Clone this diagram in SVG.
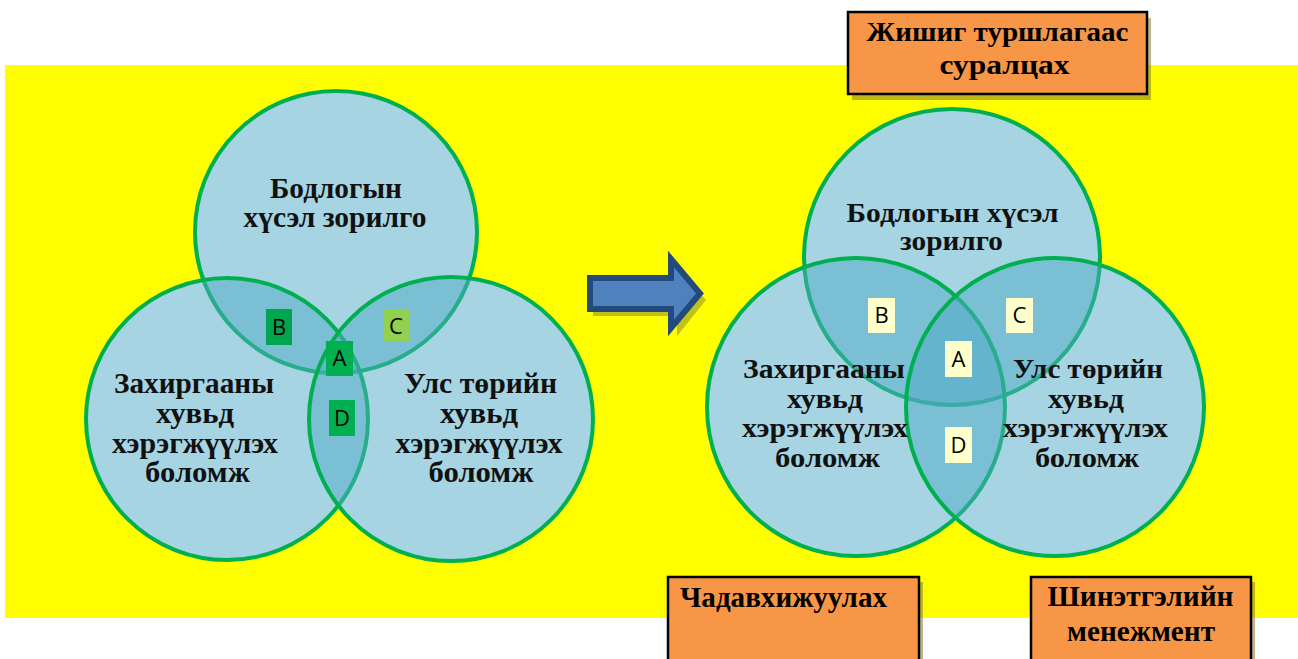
<svg xmlns="http://www.w3.org/2000/svg" width="1298" height="659" viewBox="0 0 1298 659">
<style>
.base{fill:#ffffff}
.circ{fill:#4DA9C5;fill-opacity:0.5;stroke:#00B050;stroke-width:4}
.t{font-family:"Liberation Serif","Times New Roman",serif;font-weight:bold;font-size:29px;fill:#111;text-anchor:middle}
.tr{font-size:28px}
.bt{font-family:"Liberation Serif","Times New Roman",serif;font-weight:bold;font-size:27px;fill:#000;text-anchor:middle}
.bb{font-size:29px}
.lab{font-family:"Open Sans","Liberation Sans",sans-serif;font-size:22px;fill:#000;text-anchor:middle}
.box{fill:#F79646;stroke:#000;stroke-width:2.5}
.shadow{fill:#8A7A2E;fill-opacity:0.55}
</style>
<rect x="5" y="65" width="1293" height="553" fill="#FFFF00"/>

<!-- Left Venn -->
<g id="left-venn-base">
<circle class="base" cx="336" cy="232" r="141"/>
<circle class="base" cx="227" cy="419" r="141"/>
<circle class="base" cx="451" cy="419" r="142"/>
</g>
<g id="L-top"><circle class="circ" cx="336" cy="232" r="141"/></g>
<g id="L-left"><circle class="circ" cx="227" cy="419" r="141"/></g>
<g id="L-right"><circle class="circ" cx="451" cy="419" r="142"/></g>

<!-- Right Venn -->
<g id="right-venn-base">
<circle class="base" cx="952" cy="257" r="148"/>
<circle class="base" cx="856" cy="407" r="149"/>
<circle class="base" cx="1055" cy="407" r="149"/>
</g>
<g id="R-top"><circle class="circ" cx="952" cy="257" r="148"/></g>
<g id="R-left"><circle class="circ" cx="856" cy="407" r="149"/></g>
<g id="R-right"><circle class="circ" cx="1055" cy="407" r="149"/></g>

<!-- Left venn texts -->
<g id="L-top-text" class="t">
<text x="336" y="198" textLength="132" lengthAdjust="spacingAndGlyphs">Бодлогын</text>
<text x="335" y="227" textLength="183" lengthAdjust="spacingAndGlyphs">хүсэл зорилго</text>
</g>
<g id="L-left-text" class="t">
<text x="194" y="392.5" textLength="160" lengthAdjust="spacingAndGlyphs">Захиргааны</text>
<text x="195" y="423" textLength="78" lengthAdjust="spacingAndGlyphs">хувьд</text>
<text x="195" y="452.5" textLength="166" lengthAdjust="spacingAndGlyphs">хэрэгжүүлэх</text>
<text x="197.5" y="481.5" textLength="105" lengthAdjust="spacingAndGlyphs">боломж</text>
</g>
<g id="L-right-text" class="t">
<text x="480.5" y="392.5" textLength="153" lengthAdjust="spacingAndGlyphs">Улс төрийн</text>
<text x="479" y="423" textLength="78" lengthAdjust="spacingAndGlyphs">хувьд</text>
<text x="479" y="452.5" textLength="167" lengthAdjust="spacingAndGlyphs">хэрэгжүүлэх</text>
<text x="481" y="481.5" textLength="105" lengthAdjust="spacingAndGlyphs">боломж</text>
</g>

<!-- Left venn letter labels -->
<g id="L-B"><rect x="266" y="309" width="26" height="36" fill="#00A550"/><text class="lab" x="279" y="335">B</text></g>
<g id="L-C"><rect x="383" y="309" width="26" height="33" fill="#92D050"/><text class="lab" x="396" y="334">C</text></g>
<g id="L-A"><rect x="326" y="341" width="27" height="35" fill="#00B050"/><text class="lab" x="339.5" y="366">A</text></g>
<g id="L-D"><rect x="329" y="400" width="26" height="36" fill="#00B050"/><text class="lab" x="342" y="426">D</text></g>

<!-- Right venn texts -->
<g id="R-top-text" class="t tr">
<text x="952.5" y="222" textLength="212" lengthAdjust="spacingAndGlyphs">Бодлогын хүсэл</text>
<text x="951.5" y="250" textLength="103" lengthAdjust="spacingAndGlyphs">зорилго</text>
</g>
<g id="R-left-text" class="t tr">
<text x="824" y="378" textLength="162" lengthAdjust="spacingAndGlyphs">Захиргааны</text>
<text x="825" y="408" textLength="76" lengthAdjust="spacingAndGlyphs">хувьд</text>
<text x="825" y="437" textLength="166" lengthAdjust="spacingAndGlyphs">хэрэгжүүлэх</text>
<text x="827.5" y="467" textLength="105" lengthAdjust="spacingAndGlyphs">боломж</text>
</g>
<g id="R-right-text" class="t tr">
<text x="1088" y="378" textLength="150" lengthAdjust="spacingAndGlyphs">Улс төрийн</text>
<text x="1086" y="408" textLength="76" lengthAdjust="spacingAndGlyphs">хувьд</text>
<text x="1085.5" y="437" textLength="165" lengthAdjust="spacingAndGlyphs">хэрэгжүүлэх</text>
<text x="1087" y="467" textLength="104" lengthAdjust="spacingAndGlyphs">боломж</text>
</g>

<!-- Right venn letter labels -->
<g id="R-B"><rect x="868" y="298" width="27" height="35" fill="#FFFFCC"/><text class="lab" x="881.5" y="323">B</text></g>
<g id="R-C"><rect x="1006" y="298" width="27" height="35" fill="#FFFFCC"/><text class="lab" x="1019.5" y="323">C</text></g>
<g id="R-A"><rect x="945" y="341" width="27" height="36" fill="#FFFFCC"/><text class="lab" x="958.5" y="367">A</text></g>
<g id="R-D"><rect x="945" y="427" width="27" height="36" fill="#FFFFCC"/><text class="lab" x="958.5" y="453">D</text></g>

<!-- Arrow -->
<g id="connectors">
<polygon points="593,284 674,284 674,266 706,300 677,336 677,316 593,316" fill="#8E8E2A" fill-opacity="0.55"/>
<polygon points="590,278 671,278 671,259 700,293.5 671,328 671,309 590,309" fill="#4F81BD" stroke="#24497C" stroke-width="6" stroke-linejoin="miter"/>
</g>

<!-- Orange boxes -->
<g id="box-top">
<rect class="shadow" x="852" y="18" width="299" height="82"/>
<rect class="box" x="848" y="12" width="299" height="82"/>
<text class="bt" x="997.5" y="41" textLength="262" lengthAdjust="spacingAndGlyphs">Жишиг туршлагаас</text>
<text class="bt" x="1004.5" y="74" textLength="130" lengthAdjust="spacingAndGlyphs">суралцах</text>
</g>
<g id="box-capacity">
<rect class="shadow" x="672" y="582" width="251" height="120"/>
<rect class="box" x="668" y="577" width="251" height="120"/>
<text class="bt bb" x="680" y="607" style="text-anchor:start" textLength="207" lengthAdjust="spacingAndGlyphs">Чадавхижуулах</text>
</g>
<g id="box-innovation">
<rect class="shadow" x="1035" y="582" width="220" height="120"/>
<rect class="box" x="1031" y="577" width="220" height="120"/>
<text class="bt bb" x="1140.5" y="606" textLength="186" lengthAdjust="spacingAndGlyphs">Шинэтгэлийн</text>
<text class="bt bb" x="1141" y="641" textLength="148" lengthAdjust="spacingAndGlyphs">менежмент</text>
</g>
</svg>
